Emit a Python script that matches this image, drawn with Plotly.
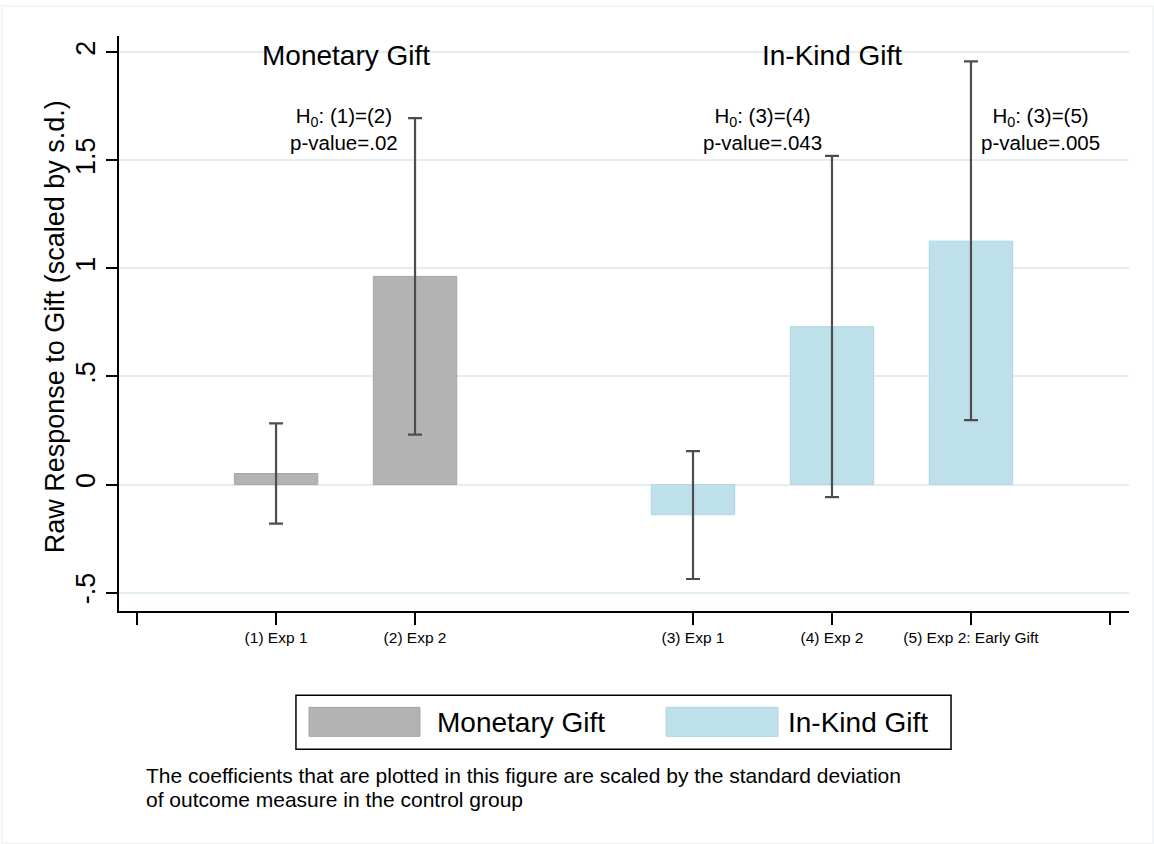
import plotly.graph_objects as go

# ---- data ----
monetary_x = [1, 2]
monetary_vals = [0.051, 0.963]
monetary_ci_low = [-0.181, 0.231]
monetary_ci_high = [0.283, 1.695]

inkind_x = [4, 5, 6]
inkind_vals = [-0.14, 0.73, 1.126]
inkind_ci_low = [-0.437, -0.058, 0.298]
inkind_ci_high = [0.155, 1.52, 1.958]

tick_positions = [0, 1, 2, 4, 5, 6, 7]
tick_labels = ["", "(1) Exp 1", "(2) Exp 2", "(3) Exp 1", "(4) Exp 2", "(5) Exp 2: Early Gift", ""]

y_tickvals = [-0.5, 0, 0.5, 1, 1.5, 2]
y_ticktext = ["-.5", "0", ".5", "1", "1.5", "2"]

group_titles = ["Monetary Gift", "In-Kind Gift"]
group_title_x = [1.5, 5.0]

test_x = [1.49, 4.5, 6.5]
test_h0 = ["H<sub>0</sub>: (1)=(2)", "H<sub>0</sub>: (3)=(4)", "H<sub>0</sub>: (3)=(5)"]
test_p = ["p-value=.02", "p-value=.043", "p-value=.005"]

note_lines = ["The coefficients that are plotted in this figure are scaled by the standard deviation",
              "of outcome measure in the control group"]

FONT = "Liberation Sans, Arial, Helvetica, sans-serif"
GRAY = "#b3b3b3"
GRAY_LINE = "#a6a6a6"
BLUE = "#bee0eb"
BLUE_LINE = "#aed6e4"
ERR = "#4d4d4d"

fig = go.Figure()

fig.add_trace(go.Bar(
    x=monetary_x, y=monetary_vals, width=0.6, name="Monetary Gift",
    marker=dict(color=GRAY, line=dict(color=GRAY_LINE, width=1)),
    error_y=dict(type="data", symmetric=False,
                 array=[h - v for h, v in zip(monetary_ci_high, monetary_vals)],
                 arrayminus=[v - l for l, v in zip(monetary_ci_low, monetary_vals)],
                 color=ERR, thickness=2.2, width=7),
    showlegend=False, hoverinfo="skip",
))
fig.add_trace(go.Bar(
    x=inkind_x, y=inkind_vals, width=0.6, name="In-Kind Gift",
    marker=dict(color=BLUE, line=dict(color=BLUE_LINE, width=1)),
    error_y=dict(type="data", symmetric=False,
                 array=[h - v for h, v in zip(inkind_ci_high, inkind_vals)],
                 arrayminus=[v - l for l, v in zip(inkind_ci_low, inkind_vals)],
                 color=ERR, thickness=2.2, width=7),
    showlegend=False, hoverinfo="skip",
))

annotations = []
for t, x in zip(group_titles, group_title_x):
    annotations.append(dict(x=x, y=1.985, xref="x", yref="y", text=t, showarrow=False,
                            xanchor="center", yanchor="middle",
                            font=dict(family=FONT, size=28, color="black")))
for x, h, p in zip(test_x, test_h0, test_p):
    annotations.append(dict(x=x, y=1.645, xref="x", yref="y", text=h + "<br>" + p,
                            showarrow=False, xanchor="center", yanchor="middle",
                            align="center",
                            font=dict(family=FONT, size=20.5, color="black")))

# y-axis title
annotations.append(dict(x=-0.0634, y=0.495, xref="paper", yref="paper",
                        text="Raw Response to Gift (scaled by s.d.)", textangle=-90,
                        showarrow=False, xanchor="center", yanchor="middle",
                        font=dict(family=FONT, size=27, color="black")))

# legend texts
annotations.append(dict(x=0.3129, y=-0.1937, xref="paper", yref="paper", text="Monetary Gift",
                        showarrow=False, xanchor="left", yanchor="middle",
                        font=dict(family=FONT, size=28, color="black")))
annotations.append(dict(x=0.6604, y=-0.1937, xref="paper", yref="paper", text="In-Kind Gift",
                        showarrow=False, xanchor="left", yanchor="middle",
                        font=dict(family=FONT, size=28, color="black")))
# note
for line, py in zip(note_lines, [775, 799]):
    annotations.append(dict(x=0.0247, y=(610.7 - py) / 574.7, xref="paper", yref="paper",
                            text=line, showarrow=False, xanchor="left", yanchor="middle",
                            align="left", font=dict(family=FONT, size=21, color="black")))

shapes = [
    # legend box
    dict(type="rect", xref="paper", yref="paper", x0=0.1752, x1=0.8238, y0=-0.2406, y1=-0.1467,
         line=dict(color="black", width=1.5), fillcolor="white", layer="below"),
    dict(type="rect", xref="paper", yref="paper", x0=0.1881, x1=0.298, y0=-0.218, y1=-0.1676,
         line=dict(color=GRAY_LINE, width=1), fillcolor=GRAY),
    dict(type="rect", xref="paper", yref="paper", x0=0.5416, x1=0.6525, y0=-0.218, y1=-0.1676,
         line=dict(color=BLUE_LINE, width=1), fillcolor=BLUE),
    # faint outer frame
    dict(type="rect", xref="paper", yref="paper",
         x0=(2 - 119) / 1010, x1=(1153 - 119) / 1010,
         y0=(610.7 - 843) / 574.7, y1=(610.7 - 6) / 574.7,
         line=dict(color="#eef3f3", width=1.5), layer="below"),
]

fig.update_layout(
    width=1154, height=844,
    margin=dict(l=119, r=25, t=36, b=233),
    plot_bgcolor="white", paper_bgcolor="white",
    barmode="overlay",
    showlegend=False,
    annotations=annotations,
    shapes=shapes,
    font=dict(family=FONT, color="black"),
)
fig.update_xaxes(
    range=[-0.13, 7.137], tickmode="array", tickvals=tick_positions, ticktext=tick_labels,
    showline=True, linecolor="black", linewidth=1.5, ticks="outside", ticklen=12,
    tickwidth=1.5, tickcolor="black", showgrid=False, zeroline=False, automargin=False,
    tickfont=dict(family=FONT, size=15.5, color="black"),
)
fig.update_yaxes(
    range=[-0.585, 2.075], tickmode="array", tickvals=y_tickvals, ticktext=y_ticktext,
    tickangle=-90, showline=True, linecolor="black", linewidth=1.5, ticks="outside",
    ticklen=11, tickwidth=1.5, tickcolor="black", showgrid=True, gridcolor="#e3eef1",
    gridwidth=1.5, zeroline=False, automargin=False,
    tickfont=dict(family=FONT, size=27, color="black"),
)

fig.write_html("out.html", config={"displayModeBar": False},
               post_script="document.body.style.margin='0';")
